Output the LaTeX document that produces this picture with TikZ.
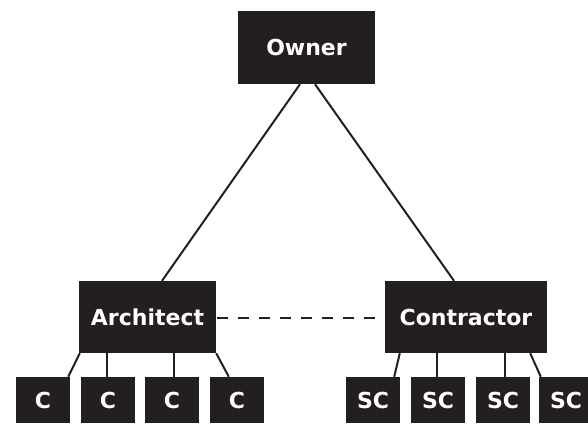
\documentclass[tikz,border=0pt]{standalone}
\usepackage{fontspec}
\setmainfont{DejaVu Sans}
\usetikzlibrary{calc}
\definecolor{ink}{HTML}{231F20}
\begin{document}
\begin{tikzpicture}[x=1pt,y=-1pt,
  box/.style={fill=ink,text=white,inner sep=0pt,font=\bfseries\fontsize{22}{26}\selectfont,anchor=center},
  link/.style={draw=ink,line width=2pt},
  peer/.style={draw=ink,line width=2.2pt,dash pattern=on 11pt off 10pt}]
\useasboundingbox (0,0) rectangle (588,423);
\node[box,minimum width=137pt,minimum height=73pt] (owner) at (306.5,47.5) {Owner};
\node[box,minimum width=137pt,minimum height=72pt] (arch) at (147.5,317) {Architect};
\node[box,minimum width=162pt,minimum height=72pt] (contr) at (466,317) {Contractor};
\foreach \i/\x in {1/43,2/108,3/172,4/237}
  \node[box,minimum width=54pt,minimum height=46pt] (c\i) at (\x,400) {C};
\foreach \i/\x in {1/373,2/438,3/503,4/566}
  \node[box,minimum width=54pt,minimum height=46pt] (sc\i) at (\x,400) {SC};
\draw[link] ($(owner.south)+(-6.5,0)$) -- ($(arch.north)+(14.5,0)$);
\draw[link] ($(owner.south)+(8.5,0)$) -- ($(contr.north)+(-12,0)$);
\draw[peer] ($(arch.east)+(1,1)$) -- ($(contr.west)+(-10,1)$);
\draw[link] ($(arch.south west)+(1,0)$) -- ($(c1.north east)+(-2,0)$);
\draw[link] (c2.north) ++(-1,0) -- ++(0,-24);
\draw[link] (c3.north) ++(2,0) -- ++(0,-24);
\draw[link] ($(arch.south east)$) -- ($(c4.north west)+(19,0)$);
\draw[link] ($(contr.south west)+(15,0)$) -- ($(sc1.north east)+(-6,0)$);
\draw[link] (sc2.north) ++(-1,0) -- ++(0,-24);
\draw[link] (sc3.north) ++(2,0) -- ++(0,-24);
\draw[link] ($(contr.south east)+(-17,0)$) -- ($(sc4.north west)+(2,0)$);
\end{tikzpicture}
\end{document}
